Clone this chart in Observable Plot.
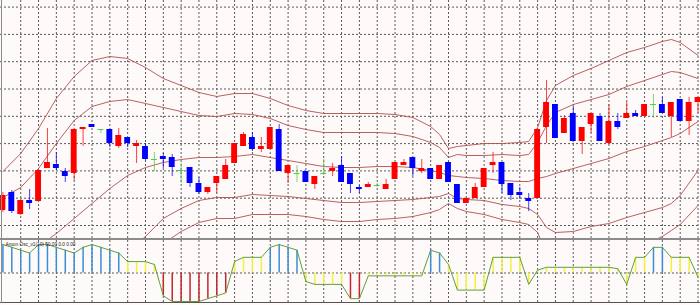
<!DOCTYPE html>
<html><head><meta charset="utf-8">
<script src="https://cdn.jsdelivr.net/npm/d3@7"></script>
<script src="https://cdn.jsdelivr.net/npm/@observablehq/plot@0.6"></script>
<style>
html,body{margin:0;padding:0;background:#fffafa;overflow:hidden}
#wrap{position:relative;width:700px;height:305px;background:#fffafa}
#main,#osc{position:absolute;left:0}
#main{top:0}
#sep{position:absolute;left:0;top:238px;width:700px;height:2px;background:#8c8c8c}
#osc{top:240px}
#bot{position:absolute;left:0;top:302px;width:700px;height:1px;background:#555}
#lb{position:absolute;left:1px;top:0;width:1px;height:303px;background:#8c8c8c}
svg{display:block}
</style></head>
<body><div id="wrap"><div id="main"></div><div id="sep"></div><div id="osc"></div><div id="bot"></div><div id="lb"></div></div>
<script>
// ---- candle data (price units, one bar per index) ----
const open = [30,48,26,40,39,72,76,69,67,111,
  116,111,111,94,103,94,94,81,84,83,
  70,73,57,48,57,61,77,94,103,91,
  91,111,67,67,69,56,67,69,75,67,
  53,53,55,51,61,75,83,69,72,61,
  78,56,37,42,53,75,78,57,48,42,
  42,113,136,107,127,99,116,124,97,119,
  122,127,124,136,136,124,141,119,138];
const close = [45,29,40,37,70,78,72,64,111,113,
  113,111,97,105,97,97,81,81,81,73,
  70,57,48,53,64,75,97,106,91,94,
  113,69,75,67,58,64,67,72,58,56,
  51,56,55,56,78,78,72,72,61,75,
  58,37,42,53,72,78,56,45,45,39,
  111,138,102,122,99,113,127,99,119,113,
  127,124,136,136,127,138,119,138,143];
const high = [48,50,41,51,70,112,88,72,111,113,
  116,111,111,112,103,100,97,88,87,86,
  77,73,63,53,64,81,97,108,108,103,
  113,116,75,75,69,64,81,77,84,67,
  55,58,57,61,78,81,83,81,72,75,
  78,56,42,57,72,88,78,57,53,47,
  111,160,136,125,134,113,127,127,136,127,
  138,130,136,146,143,138,141,143,143];
const low = [28,27,25,31,39,72,70,58,60,94,
  113,107,93,92,93,77,80,69,72,64,
  57,53,46,46,47,61,77,94,89,88,
  91,69,57,58,58,51,65,64,58,47,
  47,53,53,51,61,75,64,67,61,61,
  58,37,37,42,53,67,47,40,41,29,
  42,97,102,107,99,86,107,99,97,111,
  122,124,124,122,127,103,119,105,127];

// ---- band lines (read at these bar indices) ----
const bandIdx = [0,2,4,6,8,10,12,14,16,18,20,22,24,26,28,30,32,34,36,38,40,42,44,46,
  48,49,50,51,52,54,56,58,59,60,61,62,64,66,68,70,72,74,75,76,78];
const bandU3 = [69,87,112,142,164,180,184,182,173,162,155,148,144,147,147,142,135,130,127,127,127,127,126,123,
  114,106,92,94,95,97,97,98,99,113,140,155,165,172,180,188,193,199,201,198,185];
const bandU2 = [43,53,72,97,120,134,139,141,137,133,129,125,124,127,126,122,115,111,108,108,108,108,107,104,
  98,93,83,86,85,85,86,85,86,98,115,128,136,141,146,154,160,166,169,168,162];
const bandMid = [-10,-12,-6,7,22,37,52,65,73,78,81,83,83,84,86,83,80,77,74,73,73,74,74,73,
  70,68,65,64,63,62,60,59,59,62,64,67,72,77,82,89,94,100,103,107,119];
const bandL2 = [null,null,null,null,null,null,null,-11,4,22,32,40,43,43,46,45,44,42,40,38,38,39,40,41,
  43,44,47,42,41,40,36,34,32,26,13,8,9,14,17,23,28,33,37,45,70];
const bandL3 = [null,null,null,null,null,null,null,null,-23,-3,9,18,22,22,26,26,26,24,21,19,19,21,22,24,
  28,31,37,32,29,26,21,18,16,8,-13,null,null,null,null,-12,-4,4,10,16,35];

// ---- oscillator values (one per bar) ----
const aroon = [100,90,80,70,100,100,90,80,70,90,
  100,90,80,70,40,40,40,30,-80,-100,
  -100,-100,-100,-90,-80,-70,40,55,55,55,
  90,100,90,80,-30,-40,-40,-40,-40,-90,
  -90,-10,-10,-10,-10,-10,-10,-10,80,70,
  30,-60,-60,-60,-60,55,55,55,55,-40,
  10,20,20,20,20,20,20,20,20,15,
  -40,55,55,90,90,55,55,55,-15];

const gridPrice = [15, 42.3, 69.6, 96.9, 124.2, 151.5, 178.8, 206.1, 233.4];
const gridBars = d3.range(2, 79, 2);
const oscLabel = "Aroon Osc_v1(10) 50.00 0.0 0.00";

// ---- build tables ----
const candles = open.map((o, i) => ({i, o, c: close[i], h: high[i], l: low[i]}));
const kindColor = d => d.c > d.o ? "#ff0000" : d.c < d.o ? "#0000ff" : "#4ccc4c";
const bodies = candles.filter(d => d.c !== d.o);
const dojis = candles.filter(d => d.c === d.o);
const bandRows = [["u3", bandU3], ["u2", bandU2], ["m", bandMid], ["l2", bandL2], ["l3", bandL3]]
  .flatMap(([band, arr]) => bandIdx.map((i, k) => ({i, v: arr[k], band})));
const oscRows = aroon.map((v, i) => ({i, v}));
const oscColor = d => d.v >= 65 ? "#3a8ed6" : d.v <= -65 ? "#c4262b" : "#f2f23a";

const xDomain = [-0.2693, 78.2765];
const hw = 0.33;
const gridStyle = {stroke: "#5a5a5a", strokeWidth: 1, strokeDasharray: "2,2"};

const main = Plot.plot({
  width: 700, height: 238, margin: 0,
  style: {background: "transparent", overflow: "hidden"},
  x: {domain: xDomain, axis: null},
  y: {domain: [2, 240], axis: null},
  color: {type: "identity"},
  marks: [
    Plot.ruleY(gridPrice, gridStyle),
    Plot.ruleX(gridBars, gridStyle),
    Plot.line(bandRows, {x: "i", y: "v", z: "band", stroke: "#b0504c", strokeWidth: 1, strokeOpacity: 0.9, clip: true}),
    Plot.ruleX(candles, {x: "i", y1: "l", y2: "h", stroke: kindColor, strokeWidth: 1, strokeOpacity: 0.75, clip: true}),
    Plot.rect(bodies, {x1: d => d.i - hw, x2: d => d.i + hw, y1: "o", y2: "c", fill: kindColor, clip: true}),
    Plot.ruleY(dojis, {y: "o", x1: d => d.i - hw, x2: d => d.i + hw, stroke: kindColor, strokeWidth: 1})
  ]
});
document.getElementById("main").appendChild(main);

const osc = Plot.plot({
  width: 700, height: 62, margin: 0,
  style: {background: "transparent", overflow: "hidden"},
  x: {domain: xDomain, axis: null},
  y: {domain: [-103.5, 114], axis: null},
  color: {type: "identity"},
  marks: [
    Plot.ruleX(gridBars, gridStyle),
    Plot.ruleY([0], gridStyle),
    Plot.ruleX(oscRows, {x: "i", y1: 0, y2: "v", stroke: oscColor, strokeWidth: 1.5}),
    Plot.line(oscRows, {x: "i", y: "v", stroke: "#5e9e3e", strokeWidth: 1}),
    Plot.text([oscLabel], {frameAnchor: "top-left", textAnchor: "start", lineAnchor: "top", dx: 5, dy: 1,
      fontSize: 6, fill: "#222", fontFamily: "Liberation Sans"})
  ]
});
document.getElementById("osc").appendChild(osc);
osc.querySelectorAll("text").forEach(t => { t.setAttribute("textLength", "70"); t.setAttribute("lengthAdjust", "spacingAndGlyphs"); });
</script></body></html>
